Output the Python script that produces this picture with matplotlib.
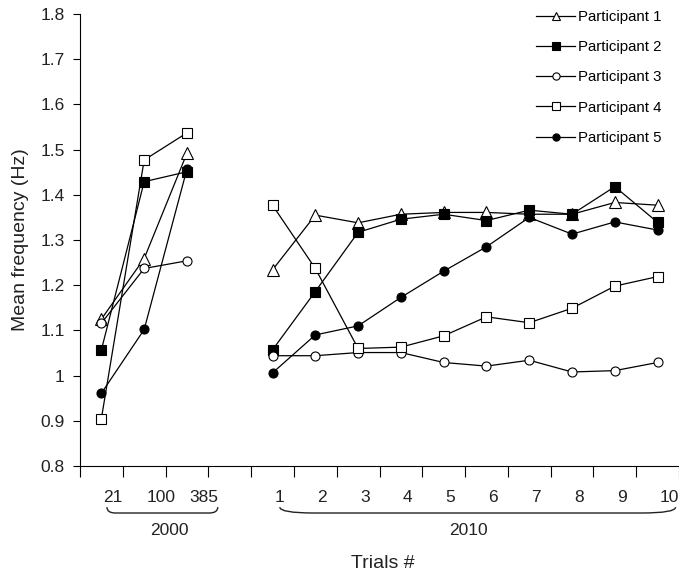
import matplotlib
matplotlib.use("Agg")
import matplotlib.pyplot as plt
import matplotlib.transforms as mtransforms
from matplotlib.path import Path
from matplotlib.patches import PathPatch

plt.rcParams["font.family"] = ["Liberation Sans", "DejaVu Sans"]

# trial labels, two sessions
trials_2000 = ["21", "100", "385"]
trials_2010 = ["1", "2", "3", "4", "5", "6", "7", "8", "9", "10"]

# mean frequency (Hz) per participant
p1_2000 = [1.125, 1.259, 1.492]
p2_2000 = [1.057, 1.429, 1.451]
p3_2000 = [1.116, 1.237, 1.254]
p4_2000 = [0.905, 1.477, 1.537]
p5_2000 = [0.961, 1.102, 1.457]

p1_2010 = [1.234, 1.355, 1.338, 1.357, 1.361, 1.361, 1.357, 1.357, 1.383, 1.377]
p2_2010 = [1.057, 1.186, 1.317, 1.346, 1.357, 1.343, 1.366, 1.357, 1.418, 1.339]
p3_2010 = [1.044, 1.044, 1.051, 1.051, 1.029, 1.021, 1.034, 1.008, 1.011, 1.029]
p4_2010 = [1.377, 1.237, 1.060, 1.063, 1.088, 1.130, 1.117, 1.149, 1.198, 1.219]
p5_2010 = [1.006, 1.090, 1.110, 1.173, 1.231, 1.285, 1.350, 1.313, 1.340, 1.322]

names = ["Participant 1", "Participant 2", "Participant 3", "Participant 4", "Participant 5"]
series_2000 = [p1_2000, p2_2000, p3_2000, p4_2000, p5_2000]
series_2010 = [p1_2010, p2_2010, p3_2010, p4_2010, p5_2010]
styles = [
    dict(marker="^", mfc="white", ms=8),
    dict(marker="s", mfc="black", ms=7),
    dict(marker="o", mfc="white", ms=6.5),
    dict(marker="s", mfc="white", ms=7),
    dict(marker="o", mfc="black", ms=6.5),
]

# category positions: 2000 trials, one empty slot, then 2010 trials
x_2000 = list(range(len(trials_2000)))
x_2010 = list(range(len(trials_2000) + 1, len(trials_2000) + 1 + len(trials_2010)))
n_cat = len(trials_2000) + 1 + len(trials_2010)

fig = plt.figure(figsize=(6.79, 5.76), dpi=100)
ax = fig.add_axes([80 / 679, 1 - 466 / 576, 599 / 679, 452 / 576])

for name, y0, y1, st in zip(names, series_2000, series_2010, styles):
    kw = dict(color="black", lw=0.9, mec="black", mew=0.8, **st)
    ax.plot(x_2000, y0, label=name, **kw)
    ax.plot(x_2010, y1, **kw)

ax.set_xlim(-0.5, n_cat - 0.5)
ax.set_ylim(0.8, 1.8)

yt = [0.8 + 0.1 * i for i in range(11)]
ax.set_yticks(yt)
ax.set_yticklabels(["{:g}".format(round(v, 1)) for v in yt], fontsize=12.5, color="#222222")
ax.tick_params(axis="y", length=5, width=0.8, pad=6)

ax.set_xticks(x_2000 + [len(trials_2000)] + x_2010)
ax.set_xticklabels(trials_2000 + [""] + trials_2010, fontsize=12.5, color="#222222")
ax.set_xticks([i - 0.5 for i in range(n_cat + 1)], minor=True)
ax.tick_params(axis="x", which="major", length=0, pad=17)
ax.tick_params(axis="x", which="minor", length=8, width=0.8)
shift = mtransforms.ScaledTranslation(0.02, 0, fig.dpi_scale_trans)
for lbl in ax.get_xticklabels():
    lbl.set_horizontalalignment("left")
    lbl.set_transform(lbl.get_transform() + shift)

for s in ["top", "right"]:
    ax.spines[s].set_visible(False)
for s in ["left", "bottom"]:
    ax.spines[s].set_linewidth(0.8)

# braces under the two sessions
trans = mtransforms.blended_transform_factory(ax.transData, ax.transAxes)


def brace(x0, x1, r):
    yt_, yb = -0.091, -0.104
    verts = [(x0, yt_), (x0, yb), (x0 + r, yb), (x1 - r, yb), (x1, yb), (x1, yt_)]
    codes = [Path.MOVETO, Path.CURVE3, Path.CURVE3, Path.LINETO, Path.CURVE3, Path.CURVE3]
    ax.add_patch(PathPatch(Path(verts, codes), fill=False, lw=1.0, ec="#222222",
                           transform=trans, clip_on=False))


brace(x_2000[0] + 0.13, x_2000[-1] + 0.72, 0.2)
brace(x_2010[0] + 0.17, x_2010[-1] + 0.42, 0.8)
ax.text(x_2000[0] + 1.58, -0.142, "2000", transform=trans, ha="center", va="center",
        fontsize=12.5, color="#222222")
ax.text(x_2010[0] + 4.57, -0.142, "2010", transform=trans, ha="center", va="center",
        fontsize=12.5, color="#222222")

ax.set_xlabel("Trials #", fontsize=14, color="#222222")
ax.xaxis.set_label_coords(0.505, -0.198)
ax.set_ylabel("Mean frequency (Hz)", fontsize=14, color="#222222")
ax.yaxis.set_label_coords(-0.085, 0.5)

ax.legend(loc="upper right", bbox_to_anchor=(661 / 679, 1 - 10 / 576),
          bbox_transform=fig.transFigure, frameon=False, fontsize=10.8,
          handlelength=2.6, handletextpad=0.15, labelspacing=1.08, markerscale=0.8,
          borderpad=0, borderaxespad=0)

fig.savefig("out.png", dpi=100)
